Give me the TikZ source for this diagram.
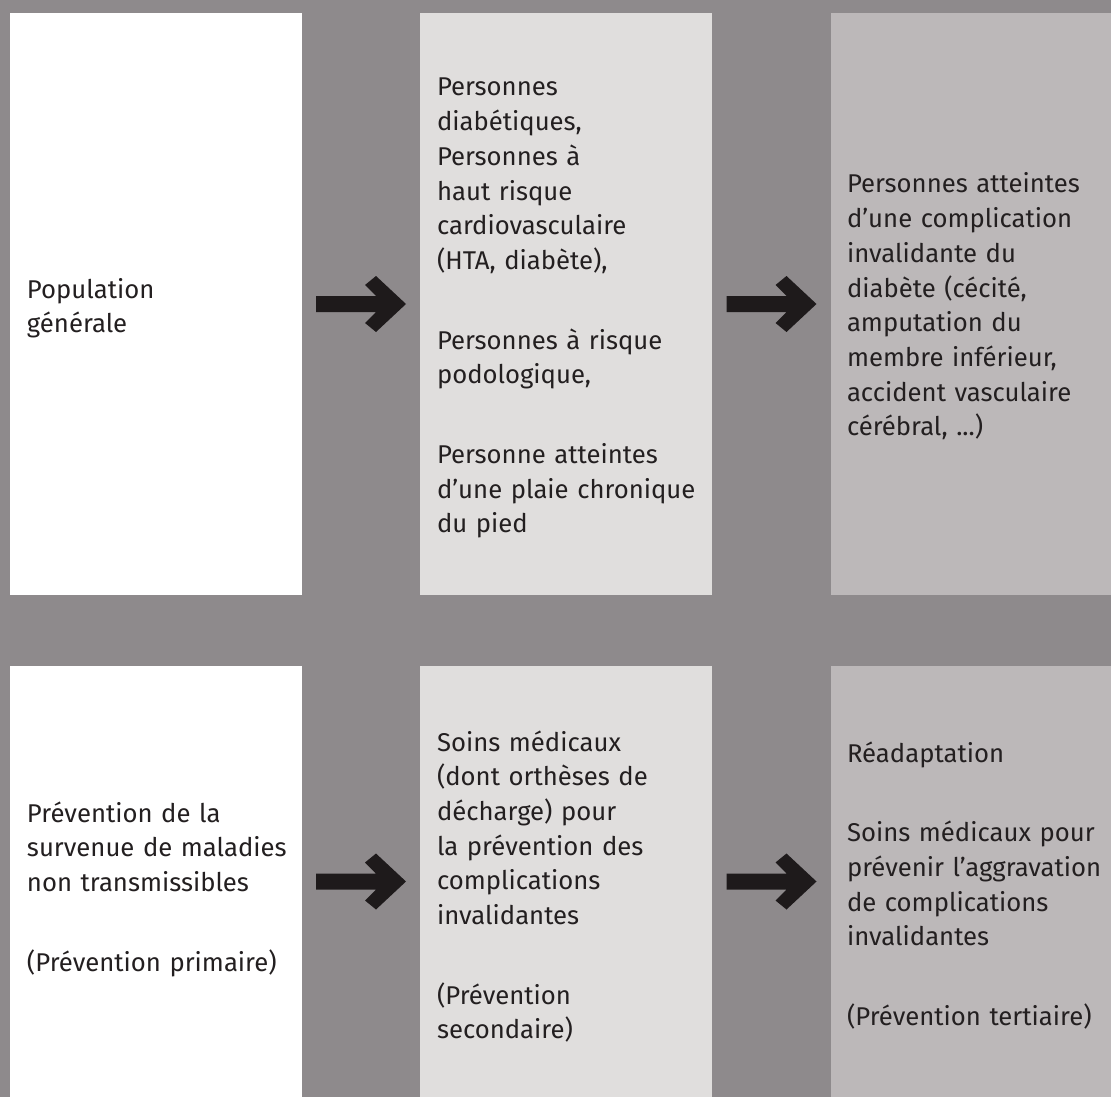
\documentclass[tikz,border=0pt]{standalone}
\usepackage{fontspec}
\setmainfont{Fira Sans}
\usetikzlibrary{calc}
\definecolor{bg}{HTML}{8E8A8C}
\definecolor{lightbox}{HTML}{E0DEDD}
\definecolor{midbox}{HTML}{BCB8B9}
\definecolor{ink}{HTML}{231F20}
\definecolor{arrowink}{HTML}{1E1A1B}
\tikzset{
  panel/.style={draw=none, inner sep=0pt, outer sep=0pt, anchor=north west},
  toprow/.style={minimum height=582pt},
  botrow/.style={minimum height=431pt},
  label/.style={anchor=base west, inner sep=0pt, outer sep=0pt, text width=300pt,
    align=left, text=ink, font=\fontsize{25.7}{34.7}\selectfont},
  blockarrow/.pic={
    \fill[arrowink] (-45,-8) -- (15,-8) -- (4,-19) -- (15,-28) -- (45,0)
      -- (15,28) -- (4,19) -- (15,8) -- (-45,8) -- cycle;
  }
}
\begin{document}
\begin{tikzpicture}[x=1pt,y=-1pt]
\useasboundingbox (0,0) rectangle (1111,1097);
\fill[bg] (0,0) rectangle (1111,1097);
% panels
\node[panel, toprow, fill=white,    minimum width=292pt] (w1) at (10,13) {};
\node[panel, toprow, fill=lightbox, minimum width=292pt] (l1) at (420,13) {};
\node[panel, toprow, fill=midbox,   minimum width=280pt] (m1) at (831,13) {};
\node[panel, botrow, fill=white,    minimum width=292pt] (w2) at (10,666) {};
\node[panel, botrow, fill=lightbox, minimum width=292pt] (l2) at (420,666) {};
\node[panel, botrow, fill=midbox,   minimum width=280pt] (m2) at (831,666) {};
% arrows
\pic at ($(w1.east)!0.5!(l1.west)$) {blockarrow};
\pic at ($(l1.east)!0.5!(m1.west)$) {blockarrow};
\pic at ($(w2.east)!0.5!(l2.west)$) {blockarrow};
\pic at ($(l2.east)!0.5!(m2.west)$) {blockarrow};
% texts
\node[label] (tw1) at (27,298) {Population\\générale};
\node[label] (tl1) at (437,96) {Personnes\\diabétiques,\\Personnes à\\haut risque\\cardiovasculaire\\(HTA, diabète),\\[45pt]Personnes à risque\\podologique,\\[45pt]Personne atteintes\\d’une plaie chronique\\du pied};
\node[label] (tm1) at (847,193) {Personnes atteintes\\d’une complication\\invalidante du\\diabète (cécité,\\amputation du\\membre inférieur,\\accident vasculaire\\cérébral, ...)};
\node[label] (tw2) at (27,822) {Prévention de la\\survenue de maladies\\non transmissibles\\[45pt](Prévention primaire)};
\node[label] (tl2) at (437,751) {Soins médicaux\\(dont orthèses de\\décharge) pour\\la prévention des\\complications\\invalidantes\\[45pt](Prévention\\secondaire)};
\node[label] (tm2) at (847,762) {Réadaptation\\[45pt]Soins médicaux pour\\prévenir l’aggravation\\de complications\\invalidantes\\[45pt](Prévention tertiaire)};
\end{tikzpicture}
\end{document}
